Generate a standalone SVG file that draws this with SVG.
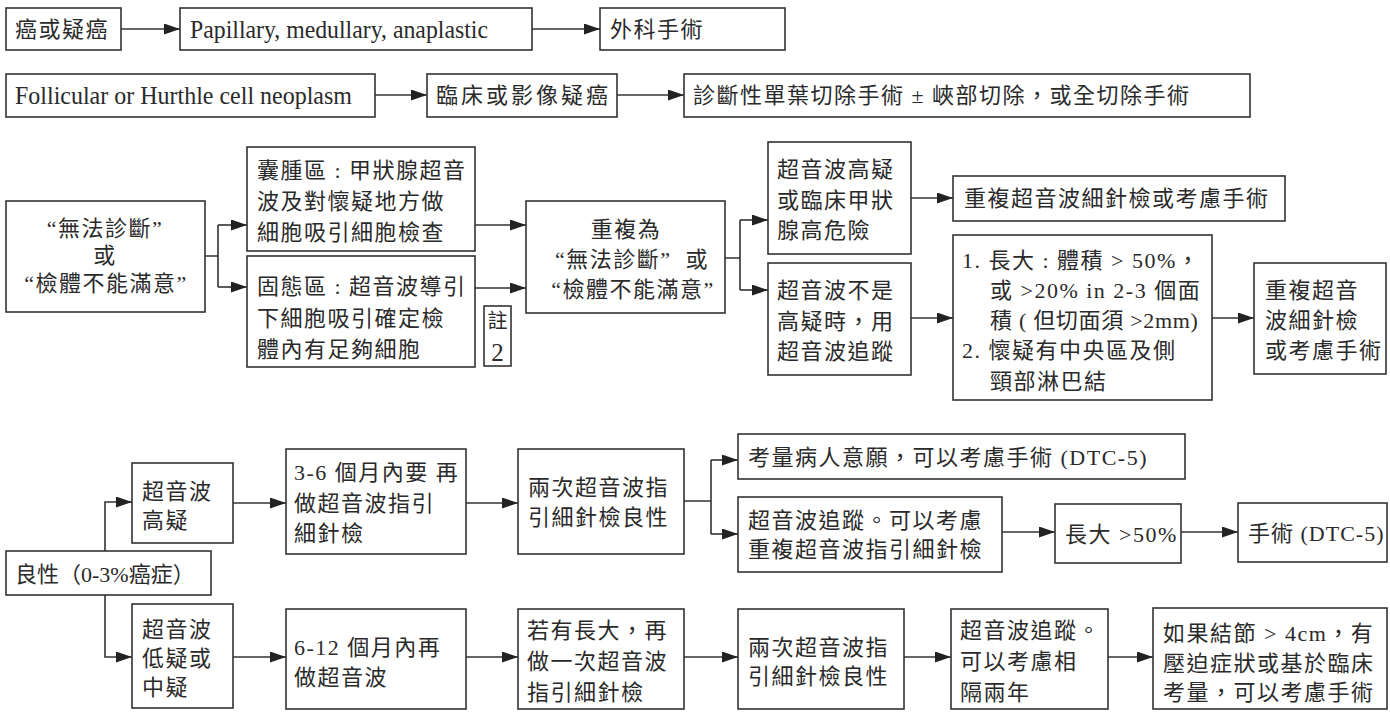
<svg xmlns="http://www.w3.org/2000/svg" width="1390" height="713" viewBox="0 0 1390 713">
<style>
.b{fill:#fff;stroke:#333;stroke-width:1.6}
.t{font-family:"Liberation Serif","Noto Sans CJK TC",serif;font-size:22px;fill:#2a2a2a;letter-spacing:1.5px;dominant-baseline:central}
.c{text-anchor:middle}
.l{letter-spacing:0;font-size:25px}
.e{fill:none;stroke:#333;stroke-width:1.6}
.a{marker-end:url(#ah)}
</style>
<defs>
<marker id="ah" markerUnits="userSpaceOnUse" markerWidth="17" markerHeight="12" refX="16" refY="5.5" orient="auto"><path d="M0,0 L16,5.5 L0,11 z" fill="#222"/></marker>
</defs>
<g id="connectors">
<path class="e a" d="M121,29 H180"/>
<path class="e a" d="M532,29 H600"/>
<path class="e a" d="M375,95 H427"/>
<path class="e a" d="M617,95 H684"/>
<path class="e" d="M205,256 H218 M218,225 V287"/>
<path class="e a" d="M218,225 H247"/>
<path class="e a" d="M218,287 H247"/>
<path class="e a" d="M475,225 H526"/>
<path class="e a" d="M475,288 H526"/>
<path class="e" d="M725,258 H740 M740,220 V290"/>
<path class="e a" d="M740,220 H768"/>
<path class="e a" d="M740,290 H768"/>
<path class="e a" d="M911,198 H953"/>
<path class="e a" d="M911,318 H953"/>
<path class="e a" d="M1212,318 H1254"/>
<path class="e a" d="M105,551 V502 H132"/>
<path class="e a" d="M105,595 V657 H132"/>
<path class="e a" d="M233,503 H286"/>
<path class="e a" d="M466,503 H518"/>
<path class="e" d="M684,501 H711 M711,460 V534"/>
<path class="e a" d="M711,460 H738"/>
<path class="e a" d="M711,534 H738"/>
<path class="e a" d="M1002,532 H1055"/>
<path class="e a" d="M1181,532 H1238"/>
<path class="e a" d="M233,657 H286"/>
<path class="e a" d="M466,657 H518"/>
<path class="e a" d="M684,657 H738"/>
<path class="e a" d="M904,657 H951"/>
<path class="e a" d="M1108,657 H1153"/>
</g>
<g id="n1"><rect class="b" x="6" y="8" width="115" height="42"/><text class="t" x="15" y="29">癌或疑癌</text></g>
<g id="n2"><rect class="b" x="180" y="8" width="352" height="42"/><text class="t l" x="190" y="29" textLength="298" lengthAdjust="spacingAndGlyphs">Papillary, medullary, anaplastic</text></g>
<g id="n3"><rect class="b" x="600" y="8" width="185" height="42"/><text class="t" x="610" y="29">外科手術</text></g>
<g id="n4"><rect class="b" x="6" y="74" width="369" height="43"/><text class="t l" x="15" y="95" textLength="337" lengthAdjust="spacingAndGlyphs">Follicular or Hurthle cell neoplasm</text></g>
<g id="n5"><rect class="b" x="427" y="74" width="190" height="43"/><text class="t" x="436" y="95" style="letter-spacing:3px">臨床或影像疑癌</text></g>
<g id="n6"><rect class="b" x="684" y="74" width="566" height="43"/><text class="t" x="693" y="95">診斷性單葉切除手術 ± 峽部切除，或全切除手術</text></g>
<g id="n7"><rect class="b" x="6" y="201" width="199" height="111"/>
<text class="t c" x="105" y="228">“無法診斷”</text>
<text class="t c" x="105" y="255">或</text>
<text class="t c" x="106" y="283">“檢體不能滿意”</text></g>
<g id="n8"><rect class="b" x="247" y="147" width="228" height="104"/>
<text class="t" x="257" y="170">囊腫區 : 甲狀腺超音</text>
<text class="t" x="257" y="201">波及對懷疑地方做</text>
<text class="t" x="257" y="232">細胞吸引細胞檢查</text></g>
<g id="n9"><rect class="b" x="247" y="256" width="228" height="111"/>
<text class="t" x="257" y="286">固態區 : 超音波導引</text>
<text class="t" x="257" y="318">下細胞吸引確定檢</text>
<text class="t" x="257" y="349">體內有足夠細胞</text></g>
<g id="n10"><rect class="b" x="484" y="306" width="27" height="60"/>
<text class="t c" x="497.5" y="321" style="letter-spacing:0;font-size:20px">註</text>
<text class="t c l" x="497.5" y="352">2</text></g>
<g id="n11"><rect class="b" x="526" y="201" width="199" height="112"/>
<text class="t c" x="626" y="229">重複為</text>
<text class="t c" x="632" y="259">“無法診斷”&#160;&#160;或</text>
<text class="t c" x="633" y="289">“檢體不能滿意”</text></g>
<g id="n12"><rect class="b" x="768" y="142" width="143" height="112"/>
<text class="t" x="777" y="169">超音波高疑</text>
<text class="t" x="777" y="200">或臨床甲狀</text>
<text class="t" x="777" y="230">腺高危險</text></g>
<g id="n13"><rect class="b" x="768" y="263" width="143" height="112"/>
<text class="t" x="777" y="290">超音波不是</text>
<text class="t" x="777" y="321">高疑時，用</text>
<text class="t" x="777" y="351">超音波追蹤</text></g>
<g id="n14"><rect class="b" x="953" y="176" width="332" height="45"/>
<text class="t" x="964" y="198">重複超音波細針檢或考慮手術</text></g>
<g id="n15"><rect class="b" x="953" y="235" width="259" height="165"/>
<text class="t" x="962" y="260">1. 長大 : 體積 &gt; 50%，</text>
<text class="t" x="990" y="290">或 &gt;20% in 2-3 個面</text>
<text class="t" x="990" y="320" style="letter-spacing:0.7px">積 ( 但切面須 &gt;2mm)</text>
<text class="t" x="962" y="350">2. 懷疑有中央區及側</text>
<text class="t" x="990" y="381">頸部淋巴結</text></g>
<g id="n16"><rect class="b" x="1254" y="263" width="132" height="111"/>
<text class="t" x="1265" y="290">重複超音</text>
<text class="t" x="1265" y="320">波細針檢</text>
<text class="t" x="1265" y="350">或考慮手術</text></g>
<g id="n17"><rect class="b" x="6" y="551" width="205" height="44"/>
<text class="t" x="15" y="574" style="letter-spacing:0">良性（0-3%癌症）</text></g>
<g id="n18"><rect class="b" x="132" y="463" width="101" height="80"/>
<text class="t" x="142" y="491">超音波</text>
<text class="t" x="142" y="520">高疑</text></g>
<g id="n19"><rect class="b" x="132" y="604" width="101" height="104"/>
<text class="t" x="142" y="629">超音波</text>
<text class="t" x="142" y="658">低疑或</text>
<text class="t" x="142" y="687">中疑</text></g>
<g id="n20"><rect class="b" x="286" y="449" width="180" height="105"/>
<text class="t" x="294" y="472">3-6 個月內要 再</text>
<text class="t" x="294" y="503">做超音波指引</text>
<text class="t" x="294" y="533">細針檢</text></g>
<g id="n21"><rect class="b" x="518" y="449" width="166" height="105"/>
<text class="t" x="528" y="487">兩次超音波指</text>
<text class="t" x="528" y="517">引細針檢良性</text></g>
<g id="n22"><rect class="b" x="738" y="434" width="447" height="45"/>
<text class="t" x="748" y="457">考量病人意願，可以考慮手術 (DTC-5)</text></g>
<g id="n23"><rect class="b" x="738" y="497" width="264" height="75"/>
<text class="t" x="748" y="520">超音波追蹤。可以考慮</text>
<text class="t" x="748" y="549">重複超音波指引細針檢</text></g>
<g id="n24"><rect class="b" x="1055" y="504" width="126" height="59"/>
<text class="t" x="1065" y="534">長大 &gt;50%</text></g>
<g id="n25"><rect class="b" x="1238" y="503" width="149" height="59"/>
<text class="t" x="1248" y="533" style="letter-spacing:1px">手術 (DTC-5)</text></g>
<g id="n26"><rect class="b" x="286" y="609" width="180" height="100"/>
<text class="t" x="294" y="647">6-12 個月內再</text>
<text class="t" x="294" y="677">做超音波</text></g>
<g id="n27"><rect class="b" x="518" y="609" width="166" height="100"/>
<text class="t" x="527" y="630">若有長大，再</text>
<text class="t" x="527" y="661">做一次超音波</text>
<text class="t" x="527" y="692">指引細針檢</text></g>
<g id="n28"><rect class="b" x="738" y="609" width="166" height="100"/>
<text class="t" x="748" y="647">兩次超音波指</text>
<text class="t" x="748" y="676">引細針檢良性</text></g>
<g id="n29"><rect class="b" x="951" y="609" width="157" height="100"/>
<text class="t" x="960" y="630">超音波追蹤。</text>
<text class="t" x="960" y="661">可以考慮相</text>
<text class="t" x="960" y="692">隔兩年</text></g>
<g id="n30"><rect class="b" x="1153" y="608" width="234" height="101"/>
<text class="t" x="1163" y="633">如果結節 &gt; 4cm，有</text>
<text class="t" x="1163" y="663">壓迫症狀或基於臨床</text>
<text class="t" x="1163" y="692">考量，可以考慮手術</text></g>
</svg>
